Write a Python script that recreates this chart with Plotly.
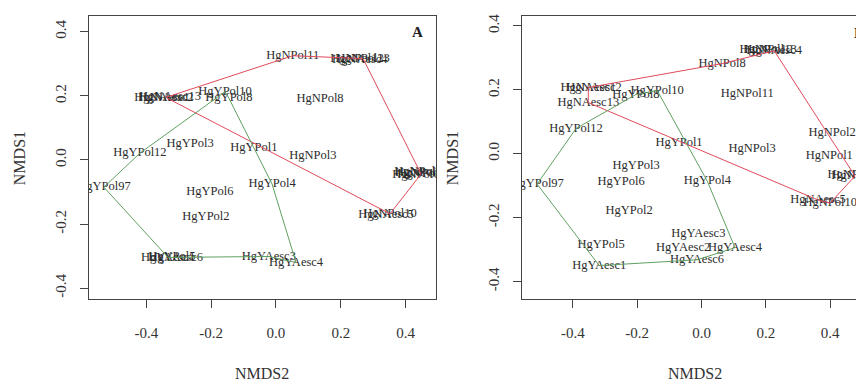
import plotly.graph_objects as go

# ---------------- data ----------------
# Panel A - group N (red)
a_n_labels = ["HgNAesc1", "HgNAesc2", "HgNAesc13", "HgNPol11", "HgNPol12", "HgNPol13", "HgNAesc4",
              "HgNPol8", "HgNPol3", "HgNPol1", "HgNPol2", "HgNPol4", "HgNPol6", "HgNPol10", "HgNAesc5"]
a_n_x = [-0.352, -0.340, -0.327, 0.052, 0.250, 0.269, 0.259, 0.136, 0.114, 0.448, 0.438, 0.440, 0.432, 0.352, 0.340]
a_n_y = [0.195, 0.195, 0.198, 0.325, 0.316, 0.316, 0.312, 0.189, 0.012, -0.044, -0.038, -0.041, -0.047, -0.168, -0.171]
a_n_hull = ["HgNAesc2", "HgNPol11", "HgNPol13", "HgNPol1", "HgNPol10", "HgNAesc2"]

# Panel A - group Y (green)
a_y_labels = ["HgYPol97", "HgYPol12", "HgYPol10", "HgYPol8", "HgYPol3", "HgYPol1", "HgYPol6", "HgYPol4",
              "HgYPol2", "HgYAesc1", "HgYPol5", "HgYAesc6", "HgYAesc3", "HgYAesc4"]
a_y_x = [-0.531, -0.420, -0.157, -0.145, -0.265, -0.068, -0.204, -0.012, -0.216, -0.333, -0.321, -0.309, -0.022, 0.062]
a_y_y = [-0.085, 0.021, 0.213, 0.192, 0.049, 0.037, -0.100, -0.075, -0.177, -0.304, -0.301, -0.304, -0.301, -0.320]
a_y_hull = ["HgYPol97", "HgYPol12", "HgYPol10", "HgYPol8", "HgYPol4", "HgYAesc4", "HgYAesc3", "HgYAesc1", "HgYPol97"]

# Panel B - group N (red)
b_n_labels = ["HgNAesc1", "HgNAesc2", "HgNAesc13", "HgNPol8", "HgNPol12", "HgNPol13", "HgNAesc4", "HgNPol11",
              "HgNPol2", "HgNPol1", "HgNPol3", "HgNPol4", "HgNPol6", "HgNPol10", "HgNAesc5"]
b_n_x = [-0.352, -0.334, -0.352, 0.064, 0.201, 0.213, 0.226, 0.142, 0.406, 0.397, 0.157, 0.465, 0.477, 0.400, 0.362]
b_n_y = [0.207, 0.207, 0.160, 0.282, 0.325, 0.325, 0.322, 0.188, 0.064, -0.008, 0.014, -0.067, -0.070, -0.154, -0.145]
b_n_hull = ["HgNAesc1", "HgNPol8", "HgNAesc4", "HgNPol6", "HgNPol10", "HgNAesc5", "HgNAesc13", "HgNAesc1"]

# Panel B - group Y (green)
b_y_labels = ["HgYPol97", "HgYPol12", "HgYPol8", "HgYPol10", "HgYPol1", "HgYPol3", "HgYPol6", "HgYPol4",
              "HgYPol2", "HgYPol5", "HgYAesc1", "HgYAesc6", "HgYAesc3", "HgYAesc2", "HgYAesc4"]
b_y_x = [-0.511, -0.390, -0.204, -0.138, -0.070, -0.203, -0.250, 0.018, -0.225, -0.312, -0.318, -0.014, -0.010, -0.057, 0.104]
b_y_y = [-0.095, 0.079, 0.185, 0.198, 0.033, -0.039, -0.089, -0.086, -0.179, -0.285, -0.350, -0.332, -0.251, -0.294, -0.294]
b_y_hull = ["HgYPol97", "HgYPol12", "HgYPol8", "HgYPol10", "HgYPol4", "HgYAesc4", "HgYAesc6", "HgYAesc1", "HgYPol97"]

tick_vals = [-0.4, -0.2, 0.0, 0.2, 0.4]
tick_text = ["-0.4", "-0.2", "0.0", "0.2", "0.4"]

# ---------------- style ----------------
FONT = "Liberation Serif, Times New Roman, serif"
RED = "#e04a5c"
GREEN = "#5fa05f"
TEXTC = "#2b2b2b"
AXC = "#444444"

# the page body has an 8px margin: lay out in window pixels minus 8
OFF = 8
W, H = 864 - OFF, 382 - OFF


def px(v):
    return (v - OFF) / W


def py(v):
    return 1 - (v - OFF) / H


fig = go.Figure()


def add_group(labels, xs, ys, xa, ya):
    fig.add_trace(go.Scatter(x=xs, y=ys, text=labels, mode="text", textposition="middle center",
                             textfont=dict(family=FONT, size=12.5, color=TEXTC),
                             xaxis=xa, yaxis=ya, showlegend=False, hoverinfo="text", cliponaxis=True))


def add_hull(labels, xs, ys, hull, color, xa, ya):
    idx = {n: i for i, n in enumerate(labels)}
    hx = [xs[idx[n]] for n in hull]
    hy = [ys[idx[n]] for n in hull]
    fig.add_trace(go.Scatter(x=hx, y=hy, mode="lines", line=dict(color=color, width=1),
                             xaxis=xa, yaxis=ya, showlegend=False, hoverinfo="skip", cliponaxis=True))


add_group(a_n_labels, a_n_x, a_n_y, "x", "y")
add_group(a_y_labels, a_y_x, a_y_y, "x", "y")
add_group(b_n_labels, b_n_x, b_n_y, "x2", "y2")
add_group(b_y_labels, b_y_x, b_y_y, "x2", "y2")
add_hull(a_n_labels, a_n_x, a_n_y, a_n_hull, RED, "x", "y")
add_hull(a_y_labels, a_y_x, a_y_y, a_y_hull, GREEN, "x", "y")
add_hull(b_n_labels, b_n_x, b_n_y, b_n_hull, RED, "x2", "y2")
add_hull(b_y_labels, b_y_x, b_y_y, b_y_hull, GREEN, "x2", "y2")

ydom = [py(299), py(14)]

common_ax = dict(tickvals=tick_vals, ticktext=tick_text, ticks="outside", ticklen=8, tickwidth=1,
                 tickcolor=AXC, showline=True, linecolor=AXC, linewidth=1, showgrid=False,
                 zeroline=False, tickfont=dict(family=FONT, size=15, color="#333333"))

fig.update_layout(
    width=W, height=H, margin=dict(l=0, r=0, t=0, b=0),
    paper_bgcolor="white", plot_bgcolor="white", showlegend=False,
    xaxis=dict(domain=[px(89), px(436)], range=[-0.577, 0.494], mirror=True,
               ticklabelstandoff=12, **common_ax),
    yaxis=dict(domain=ydom, range=[-0.435, 0.449], mirror=True, tickangle=-90,
               ticklabelstandoff=8, **common_ax),
    xaxis2=dict(domain=[px(522), 1.0], range=[-0.558, 0.505], mirror=True, anchor="y2",
                ticklabelstandoff=12, **common_ax),
    yaxis2=dict(domain=ydom, range=[-0.456, 0.431], mirror=False, anchor="x2", tickangle=-90,
                ticklabelstandoff=8, **common_ax),
)

ann_font = dict(family=FONT, size=16, color="#333333")
fig.add_annotation(text="NMDS2", x=px(262), y=py(373), xref="paper", yref="paper",
                   showarrow=False, font=ann_font, xanchor="center", yanchor="middle")
fig.add_annotation(text="NMDS2", x=px(695), y=py(373), xref="paper", yref="paper",
                   showarrow=False, font=ann_font, xanchor="center", yanchor="middle")
fig.add_annotation(text="NMDS1", x=px(19), y=py(157), xref="paper", yref="paper",
                   showarrow=False, font=ann_font, textangle=-90, xanchor="center", yanchor="middle")
fig.add_annotation(text="NMDS1", x=px(452), y=py(157), xref="paper", yref="paper",
                   showarrow=False, font=ann_font, textangle=-90, xanchor="center", yanchor="middle")
fig.add_annotation(text="<b>A</b>", x=0.438, y=0.399, xref="x", yref="y", showarrow=False,
                   font=dict(family=FONT, size=15, color="#222222"))
fig.add_annotation(text="<b>B</b>", x=px(852), y=py(31), xref="paper", yref="paper", showarrow=False,
                   xanchor="left", yanchor="middle",
                   font=dict(family=FONT, size=15, color="#222222"))

fig.write_html("out.html")
